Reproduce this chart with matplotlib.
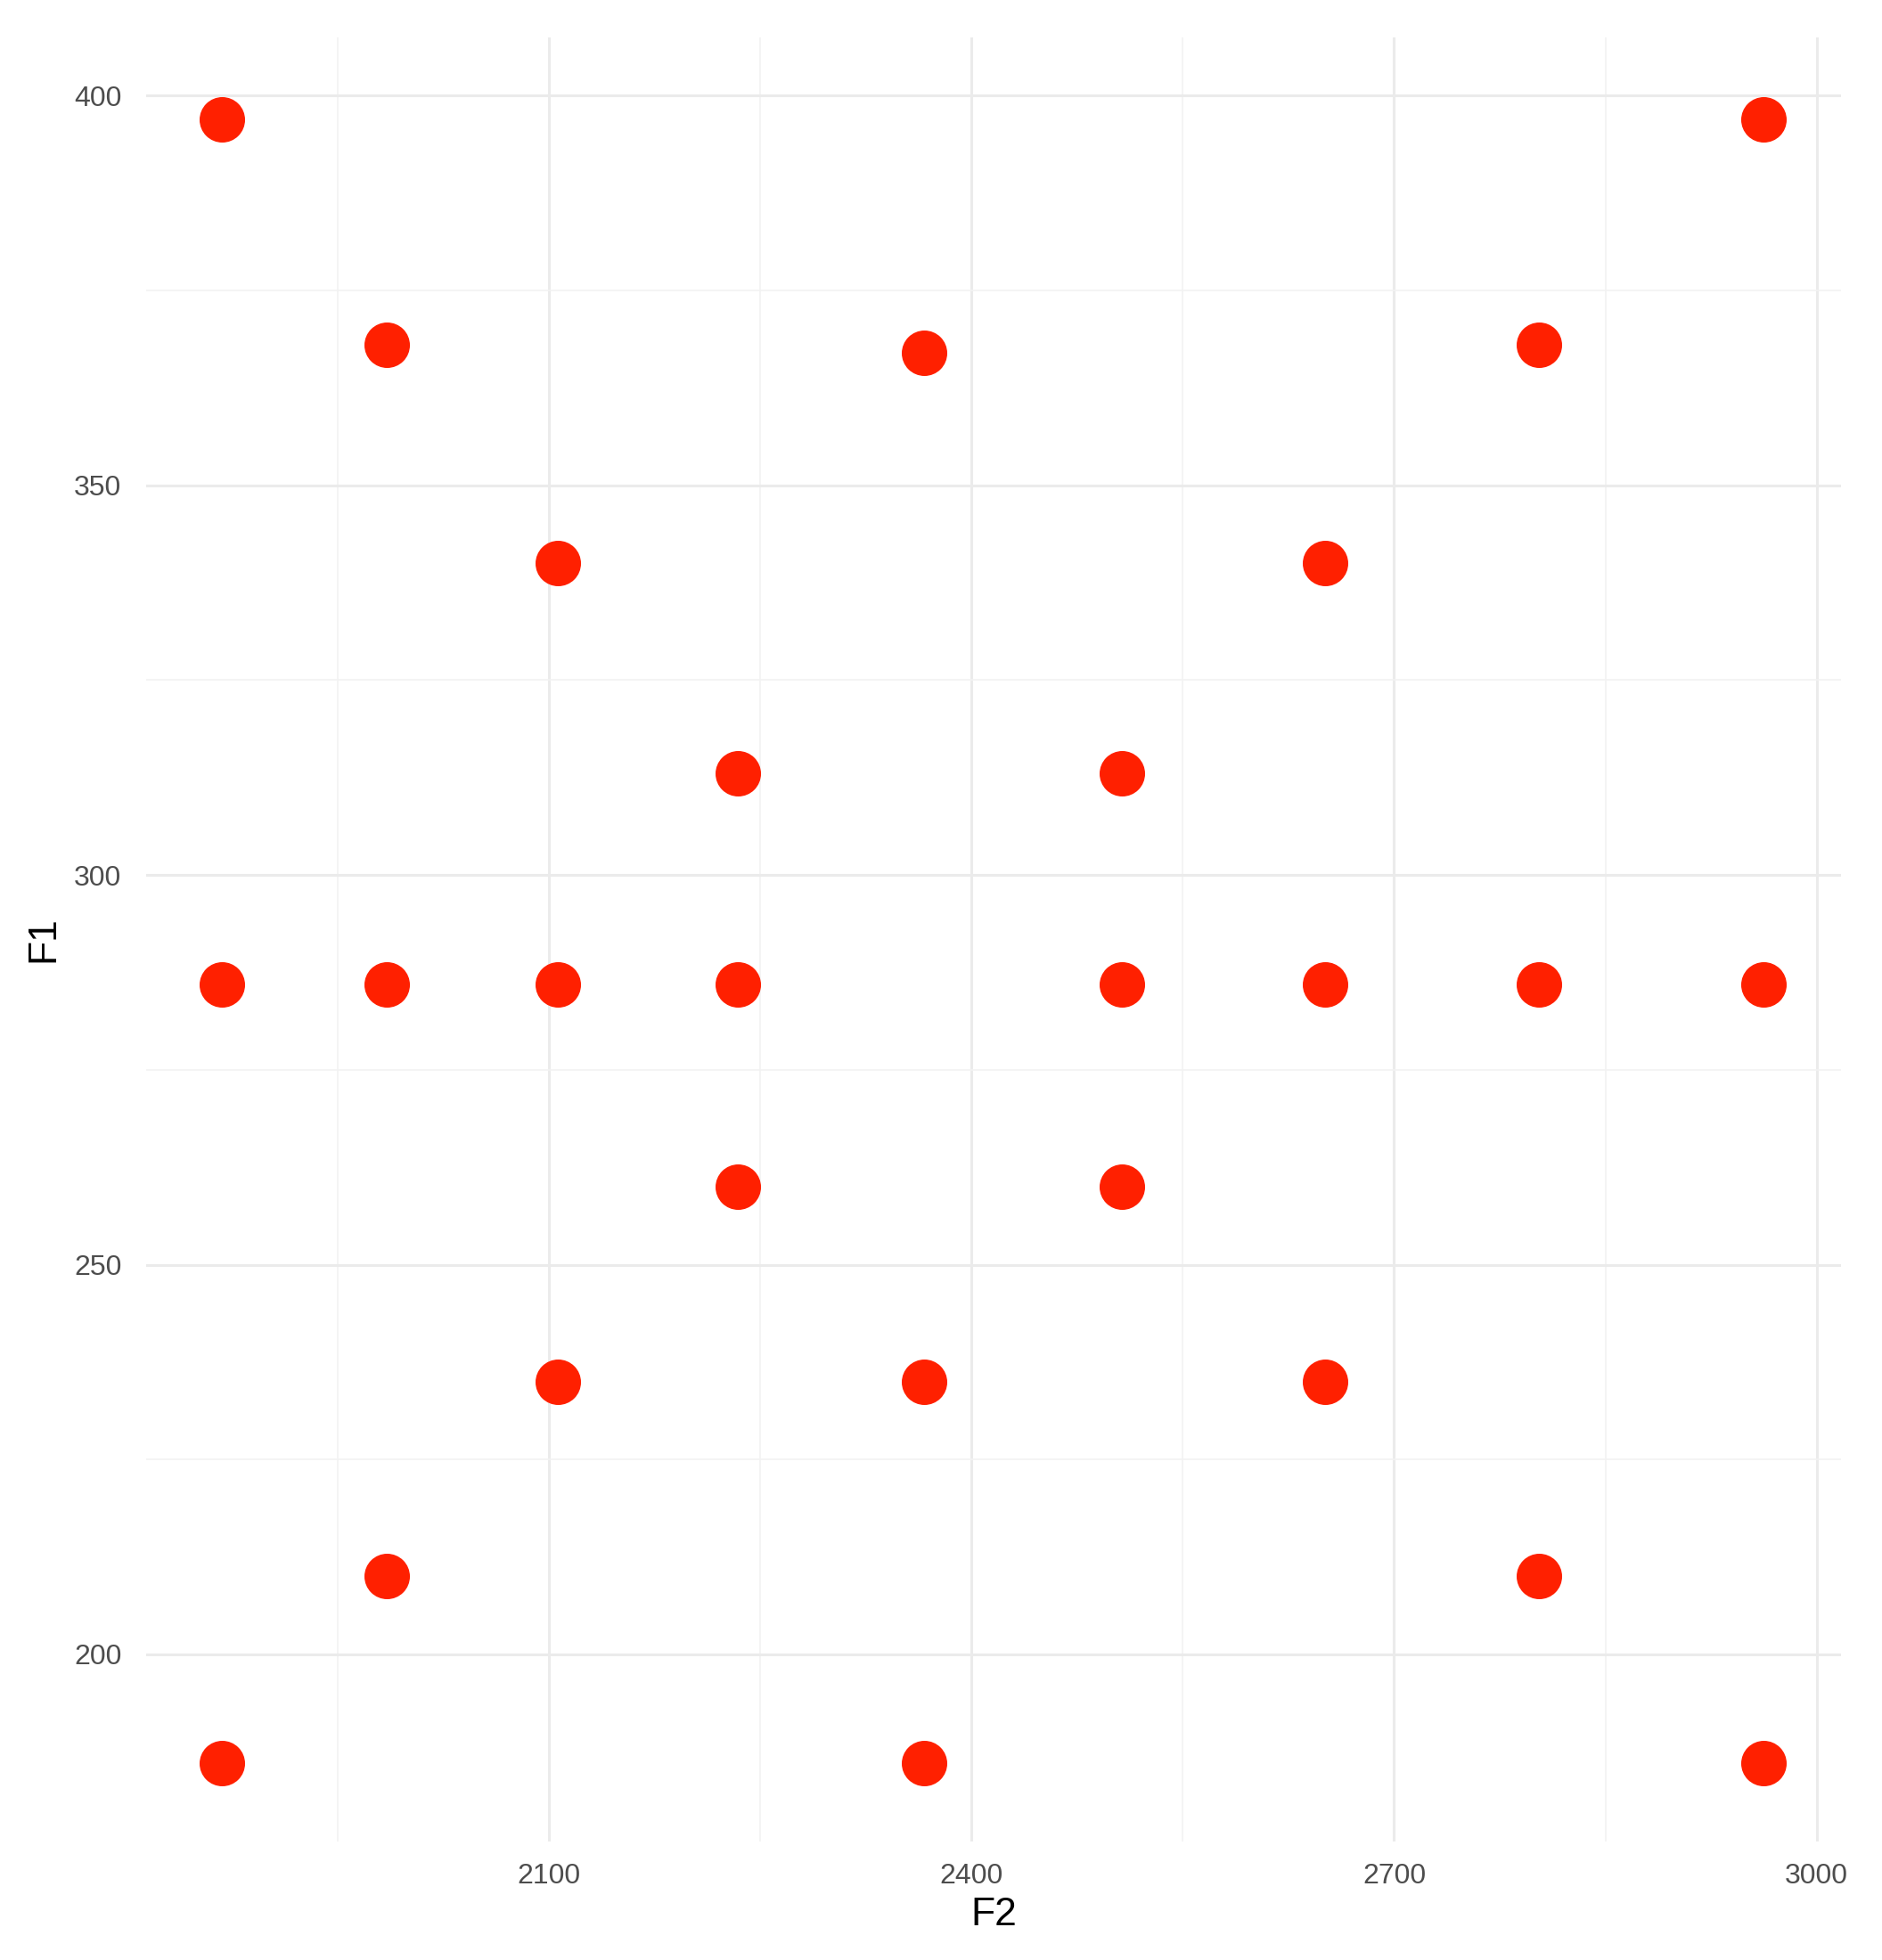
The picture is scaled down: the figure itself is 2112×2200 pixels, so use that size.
import matplotlib.pyplot as plt
from matplotlib.ticker import MultipleLocator

# formant points (F2 horizontal, F1 vertical)
f2 = [1868, 2962,
      1985, 2366, 2803,
      2106, 2651,
      2234, 2507,
      1868, 1985, 2106, 2234, 2507, 2651, 2803, 2962,
      2234, 2507,
      2106, 2366, 2651,
      1985, 2803,
      1868, 2366, 2962]
f1 = [397, 397,
      368, 367, 368,
      340, 340,
      313, 313,
      286, 286, 286, 286, 286, 286, 286, 286,
      260, 260,
      235, 235, 235,
      210, 210,
      186, 186, 186]

x_ticks = [2100, 2400, 2700, 3000]
y_ticks = [200, 250, 300, 350, 400]

plt.rcParams['font.family'] = ['Liberation Sans', 'DejaVu Sans']

fig = plt.figure(figsize=(21.12, 22), dpi=100)
ax = fig.add_axes([0.0777, 0.0605, 0.9003, 0.9205])

ax.scatter(f2, f1, s=1350, color='#FF2000', linewidths=0, zorder=3)

ax.set_xlim(1814, 3017)
ax.set_ylim(176, 407.5)
ax.set_xticks(x_ticks)
ax.set_yticks(y_ticks)
ax.xaxis.set_minor_locator(MultipleLocator(150))
ax.yaxis.set_minor_locator(MultipleLocator(25))

ax.grid(which='major', color='#EBEBEB', linewidth=2.2)
ax.grid(which='minor', color='#F2F2F2', linewidth=1.2)
ax.set_axisbelow(True)

for s in ax.spines.values():
    s.set_visible(False)
ax.tick_params(which='both', length=0)
ax.tick_params(axis='x', labelsize=23, labelcolor='#4D4D4D', pad=17)
ax.tick_params(axis='y', labelsize=23, labelcolor='#4D4D4D', pad=20)

ax.set_xlabel('F2', fontsize=32, color='black', labelpad=6)
ax.set_ylabel('F1', fontsize=32, color='black', labelpad=10)

fig.savefig('out.png', dpi=100, facecolor='white')
